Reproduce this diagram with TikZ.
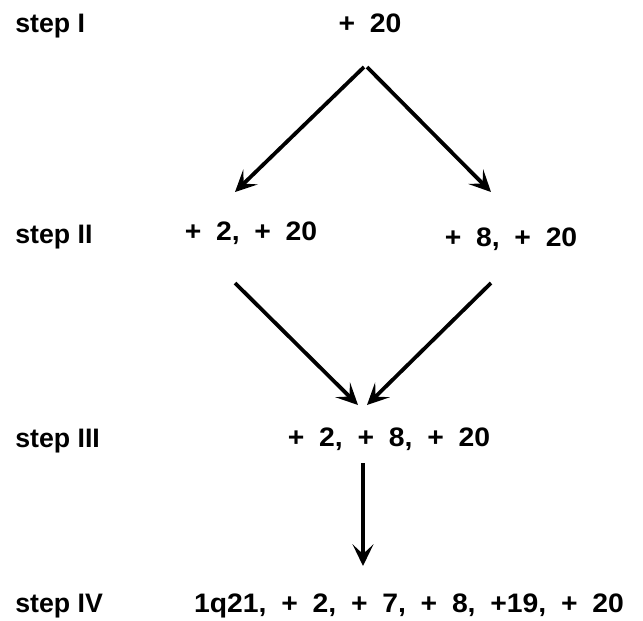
\documentclass[tikz,border=0pt]{standalone}
\usepackage{fontspec}
\setmainfont{Liberation Sans}
\newfontfamily\probefamily[FakeStretch=1.06]{Liberation Sans}
\usetikzlibrary{arrows.meta}
\newcommand\probefont{\probefamily\fontsize{19}{22}\selectfont\bfseries\spaceskip 10.5pt\relax}
\tikzset{
  steplabel/.style={anchor=base west,inner sep=0pt,font=\fontsize{19}{22}\selectfont\bfseries},
  probe/.style={anchor=base,inner sep=0pt,font=\probefont},
  link/.style={-{Stealth[length=5.4mm,width=5.2mm,inset=2.4mm]},line width=2.7pt}
}

\begin{document}
\begin{tikzpicture}[x=0.025cm,y=-0.025cm]
  \useasboundingbox (0,0) rectangle (643,620);
  % row labels
  \node[steplabel] (s1) at (15,32) {step I};
  \node[steplabel] (s2) at (15,243) {step II};
  \node[steplabel] (s3) at (15,447) {step III};
  \node[steplabel] (s4) at (15,612) {step IV};
  % probes
  \node[probe] (p1) at (370,32) {+ 20};
  \node[probe] (p2a) at (251,240) {+ 2, + 20};
  \node[probe] (p2b) at (511,246) {+ 8, + 20};
  \node[probe] (p3) at (389,446) {+ 2, + 8, + 20};
  \node[probe] (p4) at (409,612) {1q21, + 2, + 7, + 8, +19, + 20};
  % arrow ends
  \coordinate (top l) at (364,67);
  \coordinate (top r) at (367,67);
  \coordinate (mid l) at (235,192);
  \coordinate (mid r) at (491,192);
  \coordinate (low l) at (235,283);
  \coordinate (low r) at (491,283);
  \coordinate (join l) at (358,405);
  \coordinate (join r) at (367,405);
  \coordinate (drop) at (363,463);
  \coordinate (end) at (363,566);
  \draw[link] (top l) -- (mid l);
  \draw[link] (top r) -- (mid r);
  \draw[link] (low l) -- (join l);
  \draw[link] (low r) -- (join r);
  \draw[link] (drop) -- (end);
\end{tikzpicture}
\end{document}
